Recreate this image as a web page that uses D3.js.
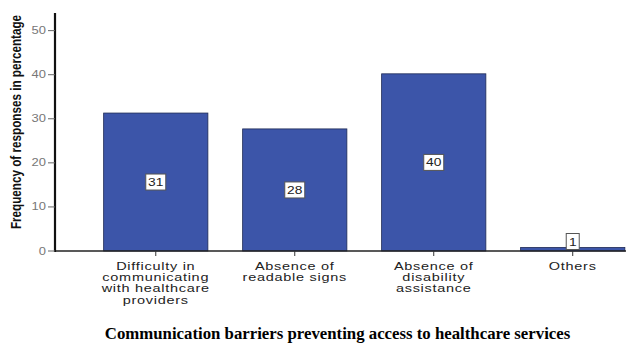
<!DOCTYPE html>
<html>
<head>
<meta charset="utf-8">
<script src="https://cdn.jsdelivr.net/npm/d3@7"></script>
<style>
  body { margin: 0; background: #fff; }
  svg { display: block; }
</style>
</head>
<body>
<svg id="chart" width="626" height="344"></svg>
<script>
// data
var categories = ["Difficulty in communicating with healthcare providers", "Absence of readable signs", "Absence of disability assistance", "Others"];
var labelLines = [
  ["Difficulty in", "communicating", "with healthcare", "providers"],
  ["Absence of", "readable signs"],
  ["Absence of", "disability", "assistance"],
  ["Others"]
];
var values = [31.3, 27.7, 40.2, 0.8];
var yTicks = [0, 10, 20, 30, 40, 50];

const svg = d3.select("#chart");
const width = 626, height = 344;
const stretch = 1.3; // the original is widened horizontally

var x = d3.scaleBand()
    .domain(categories)
    .range([55, 673.5])
    .paddingInner(0.25)
    .paddingOuter(0.35);

var y = d3.scaleLinear()
    .domain([0, 54])
    .range([251, 13]);

var fmt = d3.format(".0f");

// bars
svg.append("g")
    .selectAll("rect")
    .data(values)
    .enter()
    .append("rect")
    .attr("x", (d, i) => x(categories[i]))
    .attr("y", d => y(d))
    .attr("width", x.bandwidth())
    .attr("height", d => y(0) - y(d))
    .attr("fill", "#3c55a9")
    .attr("stroke", "#1e2a55")
    .attr("stroke-width", 0.8);

// x axis line + ticks
svg.append("line")
    .attr("x1", 55).attr("x2", width)
    .attr("y1", y(0)).attr("y2", y(0))
    .attr("stroke", "#222").attr("stroke-width", 1.6);

svg.append("g")
    .selectAll("line")
    .data(categories)
    .enter()
    .append("line")
    .attr("x1", d => x(d) + x.bandwidth() / 2)
    .attr("x2", d => x(d) + x.bandwidth() / 2)
    .attr("y1", y(0)).attr("y2", y(0) + 5)
    .attr("stroke", "#333").attr("stroke-width", 1);

// x labels
var xl = svg.append("g")
    .selectAll("text")
    .data(labelLines)
    .enter()
    .append("text")
    .attr("transform", (d, i) => "translate(" + (x(categories[i]) + x.bandwidth() / 2) + ",269.5) scale(1.45,1)")
    .attr("text-anchor", "middle")
    .attr("font-family", "Liberation Sans, Arial, sans-serif")
    .attr("font-size", 10)
    .attr("letter-spacing", 0.5)
    .attr("fill", "#222");
xl.selectAll("tspan")
    .data(d => d)
    .enter()
    .append("tspan")
    .attr("x", 0)
    .attr("y", (d, i) => i * 11.5)
    .text(d => d);

// y axis
svg.append("line")
    .attr("x1", 55).attr("x2", 55)
    .attr("y1", y(54)).attr("y2", y(0) + 1)
    .attr("stroke", "#111").attr("stroke-width", 2.2);

var yt = svg.append("g")
    .selectAll("g")
    .data(yTicks)
    .enter()
    .append("g")
    .attr("transform", d => "translate(0," + y(d) + ")");
yt.append("line")
    .attr("x1", 48).attr("x2", 55)
    .attr("stroke", "#666").attr("stroke-width", 1);
yt.append("text")
    .attr("transform", "translate(46,3.5) scale(" + stretch + ",1)")
    .attr("text-anchor", "end")
    .attr("font-family", "Liberation Sans, Arial, sans-serif")
    .attr("font-size", 10)
    .attr("fill", "#777")
    .text(d => d);

svg.append("text")
    .attr("transform", "translate(21,122) scale(" + stretch + ",1) rotate(-90)")
    .attr("text-anchor", "middle")
    .attr("font-family", "Liberation Sans, Arial, sans-serif")
    .attr("font-weight", "bold")
    .attr("font-size", 11.7)
    .attr("fill", "#111")
    .text("Frequency of responses in percentage");

// value labels in boxes
var vl = svg.append("g")
    .selectAll("g")
    .data(values)
    .enter()
    .append("g")
    .attr("transform", function(d, i) {
        var cy = Math.min((y(d) + y(0)) / 2, y(0) - 9.5);
        return "translate(" + (x(categories[i]) + x.bandwidth() / 2) + "," + cy + ")";
    });
vl.append("rect")
    .attr("x", d => fmt(d).length > 1 ? -10 : -6.5)
    .attr("y", -8)
    .attr("width", d => fmt(d).length > 1 ? 20 : 13)
    .attr("height", 16)
    .attr("fill", "#fff")
    .attr("stroke", "#555")
    .attr("stroke-width", 1);
vl.append("text")
    .attr("transform", "translate(0,4) scale(1.2,1)")
    .attr("text-anchor", "middle")
    .attr("font-family", "Liberation Sans, Arial, sans-serif")
    .attr("font-size", 11.5)
    .attr("fill", "#222")
    .text(d => fmt(d));

// title
svg.append("text")
    .attr("x", 337.5)
    .attr("y", 339)
    .attr("text-anchor", "middle")
    .attr("font-family", "Liberation Serif, Times New Roman, serif")
    .attr("font-weight", "bold")
    .attr("font-size", 16.8)
    .attr("fill", "#000")
    .text("Communication barriers preventing access to healthcare services");
</script>
</body>
</html>
